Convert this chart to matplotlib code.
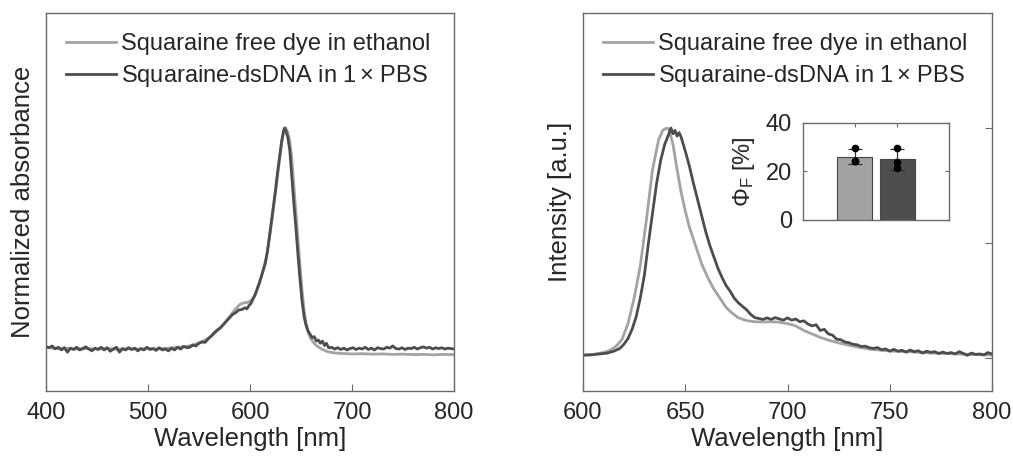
import matplotlib
matplotlib.use("Agg")
import matplotlib.pyplot as plt

plt.rcParams['font.family'] = ['Liberation Sans', 'DejaVu Sans']
plt.rcParams['mathtext.fontset'] = 'custom'
plt.rcParams['mathtext.rm'] = 'Liberation Sans'
plt.rcParams['mathtext.it'] = 'Liberation Sans:italic'

# ---------------- data ----------------
labels = ["Squaraine free dye in ethanol", "Squaraine-dsDNA in 1$\\,$\u00d7 PBS"]

# Absorbance, free dye in ethanol
abs_eth_wl = [400, 410, 420, 430, 440, 450, 460, 470, 480, 490, 500, 510, 520, 530, 540, 545, 550,
              555, 560, 565, 570, 575, 580, 585, 590, 594, 598, 601, 604, 607, 610, 613, 616, 619,
              622, 625, 628, 631, 633, 635, 637, 639, 641, 643, 645, 647, 649, 651, 653, 655, 657,
              659, 662, 665, 670, 675, 680, 690, 700, 710, 720, 730, 740, 750, 760, 770, 780, 790, 800]
abs_eth = [0.012, 0.006, 0.008, 0.004, 0.006, 0.004, 0.006, 0.003, 0.005, 0.004, 0.006, 0.005, 0.008,
           0.012, 0.018, 0.024, 0.032, 0.042, 0.056, 0.074, 0.095, 0.12, 0.15, 0.18, 0.205, 0.212,
           0.215, 0.222, 0.24, 0.27, 0.31, 0.36, 0.42, 0.5, 0.6, 0.71, 0.82, 0.93, 0.98, 1.0, 0.98,
           0.94, 0.86, 0.74, 0.62, 0.5, 0.38, 0.27, 0.18, 0.12, 0.08, 0.055, 0.035, 0.02, 0.005,
           -0.006, -0.012, -0.016, -0.018, -0.017, -0.019, -0.018, -0.02, -0.019, -0.021, -0.02,
           -0.022, -0.02, -0.021]

# Absorbance, squaraine-dsDNA in PBS
abs_dna_wl = [400, 403, 406, 409, 412, 415, 418, 421, 424, 427, 430, 433, 436, 439, 442, 445, 448,
              451, 454, 457, 460, 463, 466, 469, 472, 475, 478, 481, 484, 487, 490, 493, 496, 499,
              502, 505, 508, 511, 514, 517, 520, 523, 526, 529, 532, 535, 538, 541, 544, 547, 550,
              553, 556, 559, 562, 565, 568, 571, 574, 577, 580, 583, 586, 589, 592, 595, 597, 599,
              601, 603, 605, 607, 609, 611, 613, 615, 617, 619, 621, 623, 625, 627, 629, 631, 633,
              634, 635, 637, 639, 641, 643, 645, 647, 649, 651, 653, 655, 657, 659, 661, 663, 665,
              667, 669, 671, 673, 675, 677, 680, 683, 686, 689, 692, 695, 698, 701, 704, 707, 710,
              713, 716, 719, 722, 725, 728, 731, 734, 737, 740, 743, 746, 749, 752, 755, 758, 761,
              764, 767, 770, 773, 776, 779, 782, 785, 788, 791, 794, 797, 800]
abs_dna = [0.015, 0.01, 0.018, 0.005, 0.012, 0.0, 0.01, -0.01, 0.008, 0.002, 0.012, 0.0, 0.006,
           0.014, 0.004, -0.004, 0.008, 0.002, 0.012, 0.0, 0.01, -0.006, 0.004, 0.012, -0.01, 0.006,
           0.0, 0.01, 0.002, 0.008, -0.004, 0.006, 0.0, 0.012, 0.002, 0.006, -0.002, 0.01, 0.0,
           0.004, -0.004, 0.008, 0.0, 0.012, 0.004, 0.016, 0.01, 0.012, 0.022, 0.018, 0.03, 0.036,
           0.034, 0.05, 0.062, 0.078, 0.09, 0.1, 0.115, 0.13, 0.145, 0.16, 0.168, 0.18, 0.182, 0.19,
           0.185, 0.2, 0.21, 0.23, 0.248, 0.275, 0.3, 0.33, 0.36, 0.39, 0.44, 0.51, 0.58, 0.65,
           0.72, 0.8, 0.87, 0.94, 0.99, 1.0, 0.99, 0.96, 0.9, 0.78, 0.66, 0.55, 0.43, 0.32, 0.22,
           0.15, 0.11, 0.085, 0.07, 0.055, 0.06, 0.04, 0.045, 0.03, 0.04, 0.02, 0.03, 0.01, 0.012,
           0.004, 0.01, 0.002, 0.008, 0.0, 0.006, 0.01, 0.002, 0.008, 0.004, 0.012, 0.002, 0.008,
           0.0, 0.01, 0.006, 0.004, 0.012, 0.008, 0.018, 0.006, 0.004, 0.01, 0.002, 0.008, 0.006,
           0.012, 0.004, 0.01, 0.014, 0.008, 0.012, 0.004, 0.01, 0.006, 0.01, 0.004, 0.008, 0.006,
           0.004]

# Emission, free dye in ethanol
em_eth_wl = [600, 605, 610, 613, 616, 619, 622, 625, 628, 631, 634, 637, 639, 641, 642, 644, 646,
             648, 650, 652, 655, 658, 661, 664, 667, 670, 673, 676, 680, 684, 688, 692, 696, 700,
             704, 708, 712, 716, 720, 725, 730, 735, 740, 745, 750, 760, 770, 780, 790, 800]
em_eth = [0.013, 0.016, 0.024, 0.033, 0.05, 0.08, 0.15, 0.26, 0.40, 0.6, 0.82, 0.95, 0.99, 1.0,
          0.995, 0.93, 0.82, 0.72, 0.64, 0.57, 0.49, 0.41, 0.35, 0.3, 0.26, 0.22, 0.195, 0.175,
          0.163, 0.158, 0.157, 0.158, 0.156, 0.15, 0.14, 0.12, 0.105, 0.09, 0.078, 0.066, 0.056,
          0.047, 0.039, 0.035, 0.031, 0.027, 0.022, 0.019, 0.016, 0.013]

# Emission, squaraine-dsDNA in PBS
em_dna_wl = [600, 604, 608, 612, 615, 618, 620, 622, 624, 626, 628, 630, 632, 634, 636, 638, 640,
             642, 643, 644, 645, 646, 647, 648, 650, 652, 654, 656, 658, 660, 662, 664, 666, 668,
             670, 672, 674, 676, 678, 680, 682, 684, 686, 688, 690, 692, 694, 696, 698, 700, 702,
             704, 706, 708, 710, 712, 714, 716, 718, 720, 722, 724, 726, 728, 730, 732, 734, 736,
             738, 740, 742, 744, 746, 748, 750, 752, 754, 756, 758, 760, 762, 764, 766, 768, 770,
             772, 774, 776, 778, 780, 782, 784, 786, 788, 790, 792, 794, 796, 798, 800]
em_dna = [0.013, 0.014, 0.018, 0.022, 0.03, 0.042, 0.06, 0.085, 0.125, 0.18, 0.26, 0.36, 0.5,
          0.63, 0.76, 0.86, 0.93, 0.975, 1.0, 0.975, 0.99, 0.965, 0.98, 0.96, 0.9, 0.835, 0.76,
          0.69, 0.62, 0.55, 0.49, 0.44, 0.39, 0.35, 0.315, 0.29, 0.26, 0.24, 0.225, 0.21, 0.19,
          0.176, 0.172, 0.168, 0.175, 0.168, 0.176, 0.17, 0.165, 0.175, 0.165, 0.17, 0.158, 0.162,
          0.148, 0.14, 0.145, 0.12, 0.125, 0.105, 0.1, 0.082, 0.08, 0.07, 0.067, 0.06, 0.058, 0.05,
          0.052, 0.045, 0.042, 0.046, 0.036, 0.04, 0.03, 0.038, 0.03, 0.034, 0.026, 0.035, 0.028,
          0.032, 0.022, 0.03, 0.025, 0.028, 0.02, 0.026, 0.02, 0.024, 0.018, 0.028, 0.02, 0.012,
          0.022, 0.016, 0.018, 0.014, 0.024, 0.018]

# Inset: fluorescence quantum yield
qy_groups = [1, 2]
qy_mean = [26.1, 25.0]
qy_err = [3.0, 4.2]
qy_points_eth = [29.6, 24.4, 24.3]
qy_points_dna = [29.6, 24.0, 21.3]

# ---------------- styling ----------------
c_light = '#a3a3a3'
c_dark = '#4d4d4d'
spine_c = '#6b6b6b'
text_c = '#262626'
lw = 2.0

W, H = 1013, 462
fig = plt.figure(figsize=(W / 100, H / 100), dpi=100)


def fx(px):
    return px / W


def fy(py):
    return 1 - py / H


def style_axes(ax):
    for s in ax.spines.values():
        s.set_color(spine_c)
        s.set_linewidth(1.0)
    ax.tick_params(colors=spine_c, labelcolor=text_c, direction='in', length=5, width=0.8,
                   labelsize=17)


ax1 = fig.add_axes([fx(46), fy(391), fx(408), 378 / H])
ax2 = fig.add_axes([fx(583), fy(391), fx(409), 378 / H])

# Left: absorbance
ax1.plot(abs_eth_wl, abs_eth, color=c_light, lw=lw, label=labels[0])
ax1.plot(abs_dna_wl, abs_dna, color=c_dark, lw=lw, label=labels[1])
ax1.set_xlim(400, 800)
ax1.set_ylim(-0.185, 1.518)
ax1.set_xticks([400, 500, 600, 700, 800])
ax1.set_yticks([])
style_axes(ax1)
ax1.tick_params(axis='x', pad=8)
ax1.set_xlabel('Wavelength [nm]', fontsize=18.5, color=text_c, labelpad=2)
ax1.set_ylabel('Normalized absorbance', fontsize=18.5, color=text_c, labelpad=8)

# Right: emission
ax2.plot(em_eth_wl, em_eth, color=c_light, lw=lw, label=labels[0])
ax2.plot(em_dna_wl, em_dna, color=c_dark, lw=lw, label=labels[1])
ax2.set_xlim(600, 800)
ax2.set_ylim(-0.143, 1.5)
ax2.set_xticks([600, 650, 700, 750, 800])
ax2.yaxis.tick_right()
ax2.set_yticks([0, 0.5, 1.0])
ax2.set_yticklabels([])
style_axes(ax2)
ax2.tick_params(axis='x', pad=8)
ax2.set_xlabel('Wavelength [nm]', fontsize=18.5, color=text_c, labelpad=2)
ax2.yaxis.set_label_position('left')
ax2.set_ylabel('Intensity [a.u.]', fontsize=18.5, color=text_c, labelpad=8)

for ax, lx in ((ax1, 66), (ax2, 603)):
    leg = ax.legend(loc='upper left', bbox_to_anchor=(fx(lx), fy(33)),
                    bbox_transform=fig.transFigure, frameon=False, fontsize=17,
                    borderaxespad=0, borderpad=0, handlelength=2.1, handletextpad=0.25,
                    labelspacing=0.33)
    for t in leg.get_texts():
        t.set_color(text_c)

# Inset
axi = fig.add_axes([fx(803), fy(220), fx(146), 97 / H])
axi.bar(qy_groups, qy_mean, width=0.8, color=[c_light, c_dark], edgecolor='#444444',
        linewidth=0.8, zorder=2)
axi.errorbar(qy_groups, qy_mean, yerr=qy_err, fmt='none', ecolor='#333333', elinewidth=0.9,
             capsize=5, capthick=0.9, zorder=3)
axi.plot([1] * len(qy_points_eth), qy_points_eth, 'o', color='black', ms=4.5, zorder=4)
axi.plot([2] * len(qy_points_dna), qy_points_dna, 'o', color='black', ms=4.5, zorder=4)
axi.set_xlim(-0.2, 3.2)
axi.set_ylim(0, 40)
axi.set_yticks([0, 20, 40])
axi.set_xticks(qy_groups)
axi.set_xticklabels([])
style_axes(axi)
axi.tick_params(labelsize=17, length=3, top=True, right=True, pad=8)
axi.set_ylabel(r'$\Phi_\mathrm{F}$ [%]', fontsize=17, color=text_c, labelpad=6)

fig.savefig('out.png', dpi=100)
